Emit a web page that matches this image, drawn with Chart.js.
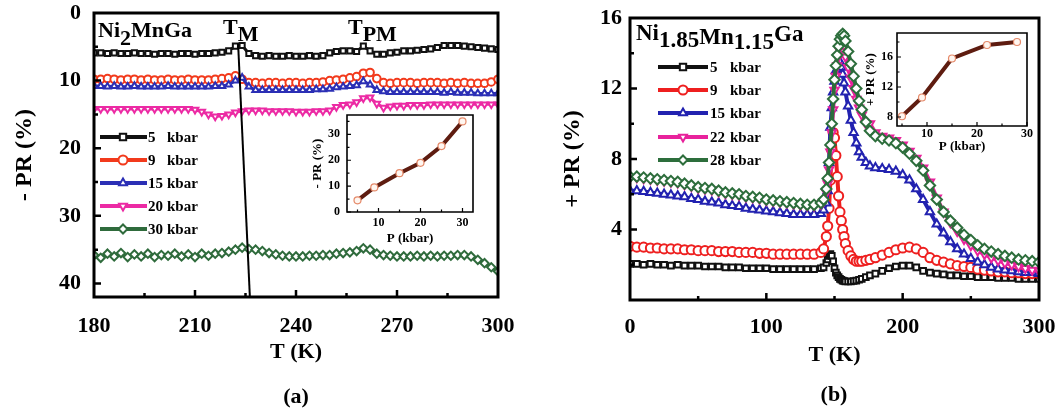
<!DOCTYPE html>
<html>
<head>
<meta charset="utf-8">
<script src="https://cdn.jsdelivr.net/npm/chart.js@4.4.1/dist/chart.umd.min.js"></script>
<style>
html, body { margin: 0; padding: 0; background: #fff; }
#wrap { position: relative; width: 1063px; height: 411px; overflow: hidden; }
#wrap canvas { position: absolute; left: 0; top: 0; }
</style>
</head>
<body>
<div id="wrap">
  <canvas id="mainA" width="1063" height="411"></canvas>
  <canvas id="mainB" width="1063" height="411"></canvas>
  <canvas id="insetA" width="1063" height="411"></canvas>
  <canvas id="insetB" width="1063" height="411"></canvas>
</div>
<script>
// ---- panel (a): Ni2MnGa, -PR vs T ----
const T_a = [180,182,184,186,188,190,192,194,196,198,200,202,204,206,208,210,212,214,216,218,
  220,222,224,226,228,230,232,234,236,238,240,242,244,246,248,250,252,254,256,258,
  260,262,264,266,268,270,272,274,276,278,280,282,284,286,288,290,292,294,296,298,300];
const p5a = [5.9,5.9,6.0,5.9,6.0,6.0,5.9,6.0,6.0,6.1,6.0,6.0,6.1,6.0,6.0,6.1,6.0,6.0,5.9,5.8,
  5.6,4.9,4.8,6.0,6.3,6.4,6.3,6.4,6.4,6.3,6.4, 6.4,6.3,6.4,6.3,5.9,5.7,5.6,5.6,5.7,
  4.9,5.6,6.1,6.1,5.9,5.8, 5.6,5.6,5.5,5.4,5.3,5.1,4.8,4.8,4.8,4.9, 5.0,5.1,5.2,5.3,5.4];
const p9a = [9.8,9.8,9.7,9.8,9.9,9.8,9.8,9.9,9.8,9.9,9.9,9.8,9.9,9.9,9.8,9.9,9.9,9.9,9.8,9.7,
  9.6,9.3,9.8,10.3,10.3,10.4,10.3,10.3,10.4,10.3,10.3, 10.4,10.3,10.3,10.2,10.0,9.9,9.8,9.6,9.4,
  8.9,8.8,9.7,10.3,10.4,10.3, 10.3,10.3,10.4,10.3,10.3,10.3,10.4,10.3,10.4,10.3, 10.4,10.4,10.4,10.2,9.8];
const p15a = [10.8,10.8,10.9,10.8,10.9,10.9,10.8,10.9,10.9,10.9,10.9,10.8,10.9,10.9,10.9,10.9,10.9,10.9,10.8,10.8,
  10.6,10.0,9.6,10.9,11.4,11.4,11.4,11.4,11.4,11.4,11.4, 11.4,11.4,11.3,11.3,11.2,11.0,10.9,10.8,10.7,
  10.1,10.6,11.4,11.6,11.7,11.7, 11.7,11.7,11.7,11.7,11.7,11.7,11.8,11.7,11.8,11.8, 11.8,11.9,11.9,11.9,11.9];
const p20a = [14.2,14.2,14.2,14.2,14.2,14.2,14.2,14.2,14.2,14.2,14.2,14.2,14.2,14.2,14.2,14.3,14.6,15.0,15.3,15.2,
  15.0,14.7,14.5,14.4,14.4,14.4,14.5,14.5,14.5,14.5,14.6, 14.6,14.6,14.5,14.5,14.4,13.9,13.6,13.5,13.2,
  12.6,12.5,13.4,14.0,13.8,13.7, 13.7,13.6,13.6,13.6,13.5,13.5,13.5,13.5,13.5,13.5, 13.5,13.5,13.5,13.5,13.5];
const p30a = [35.8,36.2,35.6,36.0,35.5,36.1,35.7,36.0,35.6,36.1,35.8,35.9,35.6,36.0,35.7,36.1,35.6,35.9,35.6,35.5,
  35.3,35.0,34.7,34.9,35.0,35.2,35.5,35.7,35.9,36.0,36.0, 36.0,35.9,35.9,35.8,35.8,35.6,35.5,35.4,35.2,
  34.8,35.0,35.6,35.8,35.9,36.0, 36.0,36.0,35.9,36.0,35.9,36.0,35.9,35.9,35.8,35.8, 36.0,36.5,37.0,37.6,38.2];
const tmLineT = [222.8, 226.3];
const tmLinePR = [4.5, 42];
const keysA = ['5', '9', '15', '20', '30'];
const xTicksA = [180, 210, 240, 270, 300];
const yTicksA = [0, 10, 20, 30, 40];
const xMinorA = [195, 225, 255, 285];
const yMinorA = [5, 15, 25, 35];

// inset (a)
const P_ia = [5, 9, 15, 20, 25, 30];
const PR_ia = [4.5, 9.5, 15, 19, 25.5, 35];
const xTicksIA = [10, 20, 30];
const yTicksIA = [0, 10, 20, 30];

// ---- panel (b): Ni1.85Mn1.15Ga, +PR vs T ----
const T_b = [0,5,10,15,20,25,30,35,40,45,50,55,60,65,70,75,80,85,90,95,100,105,110,115,120,125,130,135,140,
  142,144,145,146,147,148,149,150,151,152,153,154,155,156,157,158,
  160,162,164,166,168,170,173,176,
  180,185,190,195,200,205,210,215,220,225,230,235,240,245,250,255,260,265,270,275,280,285,290,295,300];
const p5b = [2.05,2.05,2.0,2.05,2.0,2.0,1.95,2.0,1.95,1.95,1.95,1.9,1.9,1.9,1.85,1.85,1.85,1.8,1.8,1.8,1.8,1.75,1.75,1.75,1.75,1.75,1.75,1.75,1.8,
  1.85,2.1,2.3,2.5,2.6,2.5,2.2,1.8,1.55,1.4,1.3,1.2,1.15,1.1,1.08,1.05,
  1.05,1.05,1.08,1.1,1.15,1.2,1.3,1.4,
  1.5,1.65,1.8,1.9,1.95,1.95,1.85,1.65,1.55,1.5,1.45,1.4,1.4,1.35,1.35,1.3,1.3,1.3,1.25,1.25,1.25,1.2,1.2,1.2,1.2];
const p9b = [3.05,3.0,3.0,2.95,2.95,2.9,2.9,2.9,2.85,2.85,2.8,2.8,2.8,2.75,2.75,2.75,2.7,2.7,2.7,2.65,2.65,2.6,2.6,2.6,2.6,2.6,2.6,2.6,2.7,
  2.9,3.6,4.2,5.2,6.8,8.5,9.5,9.2,8.2,7.0,5.9,5.0,4.5,4.0,3.6,3.2,
  2.8,2.5,2.3,2.2,2.2,2.2,2.25,2.3,
  2.4,2.55,2.7,2.85,2.95,3.0,2.9,2.7,2.4,2.25,2.15,2.05,1.95,1.9,1.85,1.75,1.7,1.65,1.6,1.6,1.55,1.55,1.5,1.5,1.5];
const p15b = [6.2,6.2,6.15,6.1,6.05,6.0,5.95,5.9,5.85,5.75,5.7,5.6,5.55,5.5,5.4,5.35,5.3,5.2,5.15,5.1,5.05,5.0,4.95,4.9,4.85,4.85,4.85,4.85,4.9,
  5.1,5.5,6.2,7.8,9.8,10.9,11.8,12.4,13.0,13.4,13.6,13.5,13.2,12.8,12.3,11.8,
  11.0,10.2,9.5,8.9,8.4,8.1,7.8,7.6,
  7.5,7.45,7.4,7.3,7.1,6.8,6.3,5.7,5.0,4.3,3.8,3.3,2.9,2.6,2.35,2.15,2.0,1.85,1.75,1.7,1.65,1.6,1.55,1.55,1.5];
const p22b = [6.95,6.95,6.9,6.85,6.8,6.75,6.7,6.65,6.55,6.45,6.35,6.3,6.25,6.15,6.05,6.0,5.95,5.85,5.8,5.75,5.65,5.6,5.55,5.5,5.45,5.4,5.35,5.35,5.45,
  5.6,6.1,6.6,7.4,8.4,9.5,10.8,11.9,12.7,13.3,13.8,14.1,14.3,14.3,14.1,13.8,
  13.2,12.6,12.0,11.4,10.9,10.5,10.0,10.0,
  9.5,9.3,9.2,9.05,8.8,8.45,8.05,7.5,6.7,5.8,5.0,4.4,3.9,3.45,3.1,2.8,2.6,2.4,2.25,2.1,2.0,1.9,1.8,1.7,1.65];
const p28b = [7.0,7.0,6.95,6.9,6.85,6.8,6.75,6.7,6.6,6.5,6.4,6.35,6.3,6.2,6.1,6.05,6.0,5.9,5.85,5.8,5.7,5.65,5.6,5.55,5.5,5.45,5.4,5.4,5.5,
  5.7,6.3,6.9,7.8,8.8,10.0,11.4,12.5,13.3,13.9,14.4,14.8,15.0,15.1,15.0,14.7,
  14.1,13.4,12.7,12.0,11.3,10.8,10.1,9.6,
  9.3,9.15,9.05,8.9,8.65,8.3,7.9,7.35,6.5,5.7,5.0,4.5,4.1,3.7,3.4,3.1,2.9,2.75,2.6,2.5,2.4,2.3,2.25,2.2,2.15];
const keysB = ['5', '9', '15', '22', '28'];
const xTicksB = [0, 100, 200, 300];
const yTicksB = [4, 8, 12, 16];
const xMinorB = [50, 150, 250];
const yMinorB = [2, 6, 10, 14];

// inset (b)
const P_ib = [5, 9, 15, 22, 28];
const PR_ib = [8.1, 10.6, 15.8, 17.6, 18.0];
const xTicksIB = [10, 20, 30];
const yTicksIB = [8, 12, 16];

const FONT = '"Liberation Serif", "DejaVu Serif", serif';
Chart.defaults.font.family = FONT;
Chart.defaults.font.weight = 'bold';
Chart.defaults.color = '#000';

function pts(xs, ys) { return xs.map((x, i) => ({ x: x, y: ys[i] })); }

function series(xs, ys, color, style, rot, key, order, r, lw) {
  return {
    keyLabel: key, data: pts(xs, ys), order: order,
    borderColor: color, backgroundColor: '#fff', borderWidth: lw,
    pointStyle: style, pointRotation: rot, pointRadius: r,
    pointBackgroundColor: '#fff', pointBorderColor: color, pointBorderWidth: 2,
    tension: 0
  };
}

function setTicks(vals) { return s => { s.ticks = vals.map(v => ({ value: v })); }; }

// fixed axis size, no extra padding from tick labels
function fixW(w) { return s => { s.width = w; s.paddingTop = 0; s.paddingBottom = 0; s.paddingLeft = 0; s.paddingRight = 0; }; }
function fixH(h) { return s => { s.height = h; s.paddingTop = 0; s.paddingBottom = 0; s.paddingLeft = 0; s.paddingRight = 0; }; }

// frame + inward ticks
function frame(w, tw, xMaj, xMin, yMaj, yMin, lMaj, lMin) {
  return {
    id: 'frame',
    afterDraw(chart) {
      const ctx = chart.ctx, a = chart.chartArea, sx = chart.scales.x, sy = chart.scales.y;
      ctx.save();
      ctx.strokeStyle = '#000';
      ctx.lineWidth = tw;
      ctx.beginPath();
      xMaj.forEach(v => { const p = sx.getPixelForValue(v); ctx.moveTo(p, a.bottom); ctx.lineTo(p, a.bottom - lMaj); });
      xMin.forEach(v => { const p = sx.getPixelForValue(v); ctx.moveTo(p, a.bottom); ctx.lineTo(p, a.bottom - lMin); });
      yMaj.forEach(v => { const p = sy.getPixelForValue(v); ctx.moveTo(a.left, p); ctx.lineTo(a.left + lMaj, p); });
      yMin.forEach(v => { const p = sy.getPixelForValue(v); ctx.moveTo(a.left, p); ctx.lineTo(a.left + lMin, p); });
      ctx.stroke();
      ctx.lineWidth = w;
      ctx.lineCap = 'square';
      ctx.beginPath();
      ctx.moveTo(a.left, a.top); ctx.lineTo(a.right, a.top);
      ctx.lineTo(a.right, a.bottom); ctx.lineTo(a.left, a.bottom);
      ctx.closePath();
      ctx.stroke();
      ctx.restore();
    }
  };
}

// free text with sub/superscript runs
function texts(runs) {
  return {
    id: 'texts',
    afterDraw(chart) {
      const ctx = chart.ctx;
      runs.forEach(r => {
        ctx.save();
        ctx.font = 'bold ' + r.size + 'px ' + FONT;
        ctx.fillStyle = '#000';
        ctx.textBaseline = 'alphabetic';
        ctx.textAlign = 'left';
        let x = r.x;
        if (r.center) {
          let w = 0;
          r.parts.forEach(p => { w += ctx.measureText(p[0]).width; });
          x -= w / 2;
        }
        r.parts.forEach(p => { ctx.fillText(p[0], x, r.y + p[1]); x += ctx.measureText(p[0]).width; });
        ctx.restore();
      });
    }
  };
}

// legend drawn inside the plot
function keys(o) {
  return {
    id: 'keys',
    afterDraw(chart) {
      const ctx = chart.ctx;
      ctx.save();
      let r = 0;
      chart.data.datasets.forEach(ds => {
        if (!ds.keyLabel) return;
        const y = o.rows[r++];
        ctx.strokeStyle = ds.borderColor;
        ctx.lineWidth = 4;
        ctx.beginPath(); ctx.moveTo(o.x0, y); ctx.lineTo(o.x1, y); ctx.stroke();
        ctx.fillStyle = '#fff';
        ctx.lineWidth = 2;
        Chart.helpers.drawPoint(ctx, { pointStyle: ds.pointStyle, rotation: ds.pointRotation || 0, radius: 4.5, borderWidth: 2 }, o.xm, y);
        ctx.fillStyle = '#000';
        ctx.font = 'bold 15px ' + FONT;
        ctx.textBaseline = 'middle';
        ctx.fillText(ds.keyLabel, o.xn, y + 1);
        ctx.fillText('kbar', o.xu, y + 1);
      });
      ctx.restore();
    }
  };
}

const common = {
  responsive: false, animation: false, events: [],
  plugins: { legend: { display: false }, tooltip: { enabled: false } }
};

function axis(min, max, ticks, fit, pad, size, title, tsize, extra) {
  return Object.assign({
    type: 'linear', min: min, max: max,
    afterBuildTicks: setTicks(ticks),
    afterFit: fit,
    grid: { display: false, drawTicks: false }, border: { display: false },
    ticks: { padding: pad, font: { size: size, weight: 'bold' }, color: '#000' },
    title: { display: true, text: title, font: { size: tsize, weight: 'bold' }, color: '#000' }
  }, extra || {});
}

// ---- main (a) ----
new Chart(document.getElementById('mainA'), {
  type: 'line',
  data: {
    datasets: [
      series(T_a, p5a, '#111111', 'rect', 0, keysA[0], 5, 3.6, 3),
      series(T_a, p9a, '#f23a1c', 'circle', 0, keysA[1], 4, 3.8, 3),
      series(T_a, p15a, '#2b2fb5', 'triangle', 0, keysA[2], 3, 3.8, 3),
      series(T_a, p20a, '#ec2aa4', 'triangle', 180, keysA[3], 2, 3.8, 3),
      series(T_a, p30a, '#2f6b3c', 'rectRot', 0, keysA[4], 1, 4.2, 3),
      { data: pts(tmLineT, tmLinePR), borderColor: '#000', borderWidth: 2, pointRadius: 0, order: 0 }
    ]
  },
  options: Object.assign({}, common, {
    layout: { padding: { left: 6, right: 565, top: 13, bottom: 41 } },
    scales: {
      x: axis(180, 300, xTicksA, fixH(73), 16, 22, 'T (K)', 22),
      y: axis(0, 42, yTicksA, fixW(88), 13, 22, '- PR (%)', 24, { reverse: true })
    }
  }),
  plugins: [
    frame(3, 2.5, [210, 240, 270], xMinorA, [10, 20, 30, 40], yMinorA, 7, 4),
    keys({ rows: [137, 160, 183, 206, 229], x0: 100, x1: 147, xm: 123, xn: 148, xu: 167 }),
    texts([
      { x: 98, y: 37, size: 22, parts: [['Ni', 0], ['2', 8], ['MnGa', 0]] },
      { x: 223, y: 34, size: 22, parts: [['T', 0], ['M', 7]] },
      { x: 348, y: 34, size: 22, parts: [['T', 0], ['PM', 7]] },
      { x: 296, y: 403, size: 22, center: true, parts: [['(a)', 0]] }
    ])
  ]
});

// ---- main (b) ----
new Chart(document.getElementById('mainB'), {
  type: 'line',
  data: {
    datasets: [
      series(T_b, p5b, '#111111', 'rect', 0, keysB[0], 5, 4, 4),
      series(T_b, p9b, '#ee1f1f', 'circle', 0, keysB[1], 4, 4.6, 4),
      series(T_b, p15b, '#2222b0', 'triangle', 0, keysB[2], 3, 4.8, 4),
      series(T_b, p22b, '#e8229c', 'triangle', 180, keysB[3], 2, 4.8, 4),
      series(T_b, p28b, '#2d6e3c', 'rectRot', 0, keysB[4], 1, 5.2, 4)
    ]
  },
  options: Object.assign({}, common, {
    layout: { padding: { left: 554, right: 24, top: 18, bottom: 38 } },
    scales: {
      x: axis(0, 300, xTicksB, fixH(73), 14, 22, 'T (K)', 22),
      y: axis(0, 16, yTicksB, fixW(76), 8, 22, '+ PR (%)', 24)
    }
  }),
  plugins: [
    frame(3, 2.5, [100, 200], xMinorB, [4, 8, 12], yMinorB, 7, 4),
    keys({ rows: [67, 90, 113, 137, 160], x0: 658, x1: 708, xm: 683, xn: 710, xu: 730 }),
    texts([
      { x: 636, y: 40, size: 23, parts: [['Ni', 0], ['1.85', 7], ['Mn', 4], ['1.15', 9], ['Ga', 1]] },
      { x: 834, y: 401, size: 22, center: true, parts: [['(b)', 0]] }
    ])
  ]
});

// ---- insets ----
function inset(id, xs, ys, xr, yr, xt, yt, pad, wy, hx, ytitle, xMin, yMin, xpad, ypad) {
  new Chart(document.getElementById(id), {
    type: 'line',
    data: {
      datasets: [{
        data: pts(xs, ys), borderColor: '#5e1c10', borderWidth: 4, tension: 0,
        pointStyle: 'circle', pointRadius: 3.5, pointBackgroundColor: '#fff6f0',
        pointBorderColor: '#e58a6a', pointBorderWidth: 1.2
      }]
    },
    options: Object.assign({}, common, {
      layout: { padding: pad },
      scales: {
        x: axis(xr[0], xr[1], xt, fixH(hx), xpad, 12, 'P (kbar)', 13),
        y: axis(yr[0], yr[1], yt, fixW(wy), ypad, 12, ytitle, 13)
      }
    }),
    plugins: [frame(1.6, 1.2, xt, xMin, yt, yMin, 4, 2.5)]
  });
}

inset('insetA', P_ia, PR_ia, [2.5, 32.5], [0, 37.5], xTicksIA, yTicksIA,
  { left: 306, right: 590, top: 115, bottom: 161 }, 41, 38, '- PR (%)', [5, 15, 25], [5, 15, 25, 35], 4, 7);
inset('insetB', P_ib, PR_ib, [4, 30], [6.8, 19.2], xTicksIB, yTicksIB,
  { left: 859, right: 36, top: 33, bottom: 253 }, 38, 32, '+ PR (%)', [5, 15, 25], [10, 14, 18], 1, 4);
</script>
</body>
</html>
